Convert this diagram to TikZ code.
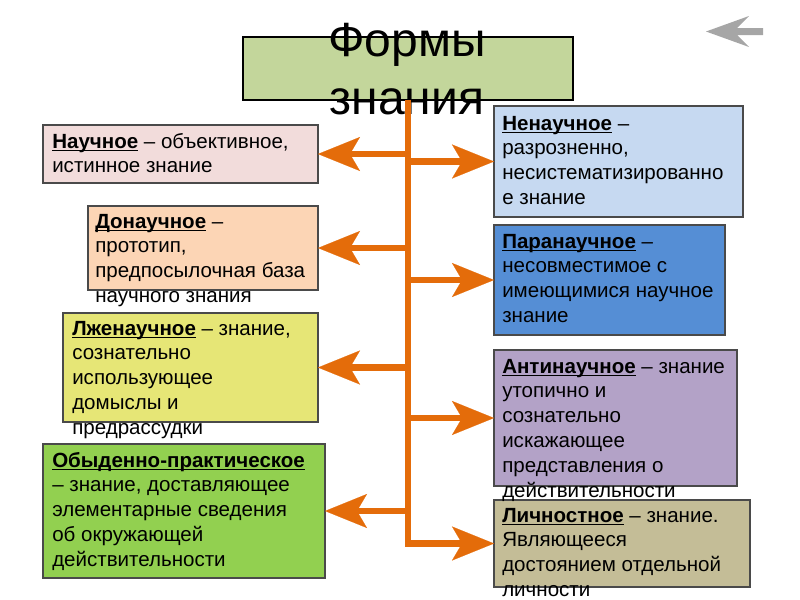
\documentclass[tikz,border=0pt]{standalone}
\usepackage{fontspec}
\setmainfont{Liberation Sans}
\usetikzlibrary{arrows.meta}
\definecolor{orng}{HTML}{E46C0A}
\definecolor{boxline}{HTML}{4A4A4A}
\definecolor{cTitle}{HTML}{C3D69B}
\definecolor{cNauch}{HTML}{F2DCDB}
\definecolor{cDonauch}{HTML}{FCD5B5}
\definecolor{cLzhe}{HTML}{E6E676}
\definecolor{cObyd}{HTML}{92D050}
\definecolor{cNenauch}{HTML}{C6D9F1}
\definecolor{cPara}{HTML}{558ED5}
\definecolor{cAnti}{HTML}{B3A2C7}
\definecolor{cLich}{HTML}{C4BD97}
\definecolor{backgray}{HTML}{A6A6A6}
\newcommand\myul[1]{\setbox0\hbox{#1}\rlap{\rule[-2.4pt]{\wd0}{1.1pt}}\box0}
\newcommand\hd[1]{\textbf{\myul{#1}}}
\newcommand\mkbox[6]{\node[box, fill=#6, minimum width={(#4-#2)*0.75pt}, minimum height={(#5-#3)*0.75pt}] (#1) at ({(#2+#4)/2},{(#3+#5)/2}) {};}
\begin{document}
\begin{tikzpicture}[x=0.75pt,y=-0.75pt,
  box/.style={draw=boxline, line width=0.8pt, inner sep=0pt, outer sep=0pt},
  txt/.style={anchor=base west, inner sep=0pt, font=\fontsize{15.4}{18.6}\selectfont},
  conn/.style={draw=orng, line width=5.2pt, -{Stealth[length=31.5pt,width=25.5pt,inset=7.5pt,line width=0.1pt]}}]
\useasboundingbox (0,0) rectangle (800,600);
% title
\node[draw=black, line width=1.5pt, fill=cTitle, inner sep=0pt, minimum width={330*0.75pt}, minimum height={63*0.75pt}] (title) at (408,68.5) {};
\node[anchor=base, inner sep=0pt, font=\fontsize{36}{43.5}\selectfont] (titletxt) at (407,56) {\parbox[t]{300pt}{\centering Формы\\знания}};
% boxes
\mkbox{b1}{43}{125}{318}{183}{cNauch}
\mkbox{b2}{88}{206}{318}{290}{cDonauch}
\mkbox{b3}{63}{313}{318}{422}{cLzhe}
\mkbox{b4}{43}{444}{325}{578}{cObyd}
\mkbox{b5}{494}{106}{743}{217}{cNenauch}
\mkbox{b6}{494}{225}{725}{335}{cPara}
\mkbox{b7}{494}{350}{737}{486}{cAnti}
\mkbox{b8}{494}{500}{750}{587}{cLich}
% texts
\node[txt] (t1) at (52,148) {\parbox[t]{300pt}{\hd{Научное} – объективное,\\истинное знание}};
\node[txt] (t2) at (95,228) {\parbox[t]{300pt}{\hd{Донаучное} –\\прототип,\\предпосылочная база\\научного знания}};
\node[txt] (t3) at (72,335) {\parbox[t]{300pt}{\hd{Лженаучное} – знание,\\сознательно\\использующее\\домыслы и\\предрассудки}};
\node[txt] (t4) at (52,467) {\parbox[t]{300pt}{\hd{Обыденно-практическое}\\– знание, доставляющее\\элементарные сведения\\об окружающей\\действительности}};
\node[txt] (t5) at (502,130) {\parbox[t]{300pt}{\hd{Ненаучное} –\\разрозненно,\\несистематизированно\\е знание}};
\node[txt] (t6) at (502,248) {\parbox[t]{300pt}{\hd{Паранаучное} –\\несовместимое с\\имеющимися научное\\знание}};
\node[txt] (t7) at (502,373) {\parbox[t]{300pt}{\hd{Антинаучное} – знание\\утопично и\\сознательно\\искажающее\\представления о\\действительности}};
\node[txt] (t8) at (502,522) {\parbox[t]{300pt}{\hd{Личностное} – знание.\\Являющееся\\достоянием отдельной\\личности}};
% connectors
\coordinate (top) at (408,100);
\draw[conn] (top) -- (b8.west -| top) -- (b8.west);
\foreach \b in {b1,b2,b3,b4}{\draw[conn] (\b.east -| top) -- (\b.east);}
\foreach \b in {b5,b6,b7}{\draw[conn] (\b.west -| top) -- (\b.west);}
% back arrow icon
\fill[backgray] (706,31.5) -- (749,16) -- (737,28) -- (763,28) -- (763,35) -- (737,35) -- (749,47) -- cycle;
\end{tikzpicture}
\end{document}
